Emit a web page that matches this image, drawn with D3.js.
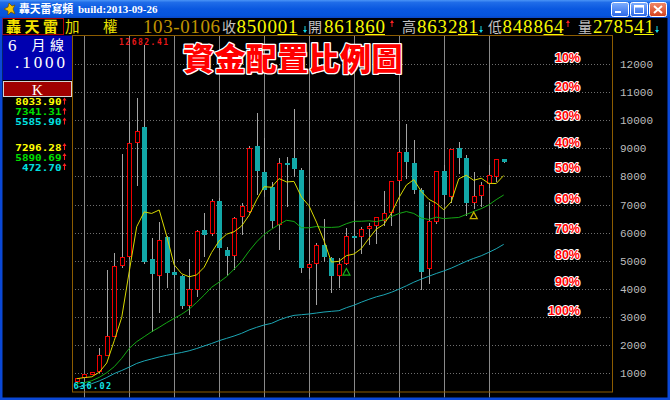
<!DOCTYPE html>
<html><head><meta charset="utf-8">
<script src="https://cdn.jsdelivr.net/npm/d3@7"></script>
<style>
html,body{margin:0;padding:0;background:#000;overflow:hidden}
svg{display:block}
</style></head><body>
<svg id="c" width="670" height="400"></svg>
<script>
// ---------- data (half-year candles, ROC year + half) ----------
const periods = ["74H2","75H1","75H2","76H1","76H2","77H1","77H2","78H1","78H2","79H1","79H2","80H1","80H2","81H1","81H2","82H1","82H2","83H1","83H2","84H1","84H2","85H1","85H2","86H1","86H2","87H1","87H2","88H1","88H2","89H1","89H2","90H1","90H2","91H1","91H2","92H1","92H2","93H1","93H2","94H1","94H2","95H1","95H2","96H1","96H2","97H1","97H2","98H1","98H2","99H1","99H2","100H1","100H2","101H1","101H2","102H1","102H2","103H1"];
const opens  = [700,850,950,1040,1620,2300,4800,5119,9180,9770,5050,4450,5830,4600,4460,3392,3961,6095,5953,7124,5384,5170,6569,6750,9082,8169,7636,6273,8489,8643,8228,4739,4886,5561,5087,4452,4872,5882,5839,6139,6241,6400,6704,7823,8856,8465,7517,4696,6391,8193,7280,8999,8643,7043,7316,7730,7991,8619];
const highs  = [840,975,1060,1890,4673,5265,8790,9950,10773,12682,5800,6365,5900,5390,4500,5050,6100,6687,7185,7220,5500,6550,7067,9082,10256,9354,7800,8643,8710,10393,8300,6104,5621,6484,5150,5087,6154,7135,6213,6356,6575,7474,7850,8900,9859,9309,7600,7100,8200,8395,8990,9220,8775,8170,7800,8400,8623,8633];
const lows   = [636,830,930,1000,1600,2290,4750,5050,7670,4900,2485,3130,4020,4400,3270,3072,3724,5123,5900,5400,4474,4673,5917,6700,7340,7280,6154,5384,6900,7990,4555,4350,3411,4969,3850,4044,4850,5400,5255,5565,5600,6232,6232,7306,7900,7384,3955,4164,6300,7032,7071,8070,6609,6857,6922,7600,7800,8489];
const closes = [835,960,1039,1650,2340,4800,5119,9180,9624,4970,4530,5740,4560,4500,3377,3985,6070,5917,7124,5443,5174,6510,6934,9030,8187,7517,6418,8467,8448,8265,4739,4883,5551,5153,4452,4872,5890,5839,6139,6241,6548,6704,7823,8883,8506,7523,4591,6432,8188,7329,8972,8652,7072,7296,7699,8062,8611,8500];
// moving averages
const maShort = [807,847,874,1037,1365,2158,2990,4618,6213,6739,6685,6809,5885,4860,4541,4432,4498,4770,5295,5708,5946,6034,6237,6618,7167,7636,7617,7924,7807,7823,7267,6960,6377,5718,4956,4982,5184,5241,5438,5796,6131,6294,6691,7240,7693,7888,7465,7187,7048,6813,7102,7915,8043,7864,7938,7756,7748,8034];
const maMid   = [643,666,737,856,1022,1235,1532,1887,2124,2302,2480,2634,2800,2954,3100,3280,3520,3780,4060,4241,4438,4702,4979,5346,5671,5938,6123,6290,6441,6400,6177,6174,6220,6193,6188,6205,6320,6404,6407,6422,6395,6453,6573,6681,6752,6684,6521,6471,6552,6500,6524,6541,6647,6757,6855,6987,7176,7341];
const maLong  = [500,560,630,730,850,990,1100,1220,1350,1440,1510,1580,1640,1690,1740,1800,1880,1970,2060,2159,2243,2326,2421,2539,2634,2717,2776,2895,2989,3060,3084,3108,3143,3179,3203,3226,3333,3420,3530,3630,3720,3790,3880,3990,4110,4240,4350,4450,4550,4640,4740,4860,4981,5087,5180,5300,5430,5586];
const signalPeriods = ["92H2","101H1"];
const yTicks = [1000,2000,3000,4000,5000,6000,7000,8000,9000,10000,11000,12000];
const xTickYears = ["75","78","81","84","87","90","93","96","99","102"];
const pctLabels = ["10%","20%","30%","40%","50%","60%","70%","80%","90%","100%"];
const pctLevels = [12230,11190,10185,9200,8325,7225,6155,5230,4255,3250];
const maNow  = ["8033.90","7341.31","5585.90"];
const maDrop = ["7296.28","5890.69","472.70"];
const quoteLabels = ["收","開","高","低","量"];
const quoteValues = ["850001","861860","863281","848864","278541"];
const quoteDirs   = ["down","up","down","up","down"];
const quoteDate = "103-0106";
const maxLabel = "12682.41", minLabel = "636.02";

// ---------- setup ----------
const svg = d3.select("#c");
const W = 670, H = 400;
const defs = svg.append("defs");
const tb = defs.append("linearGradient").attr("id","tb").attr("x1",0).attr("y1",0).attr("x2",0).attr("y2",1);
[["0%","#4a94f6"],["14%","#1f6ce8"],["50%","#0a58e0"],["86%","#0654dc"],["100%","#0a46c4"]]
  .forEach(([o,c]) => tb.append("stop").attr("offset",o).attr("stop-color",c));
const bg = defs.append("linearGradient").attr("id","btn").attr("x1",0).attr("y1",0).attr("x2",0).attr("y2",1);
[["0%","#7fb0ff"],["100%","#2a66e6"]].forEach(([o,c]) => bg.append("stop").attr("offset",o).attr("stop-color",c));
const cg = defs.append("linearGradient").attr("id","cls").attr("x1",0).attr("y1",0).attr("x2",0).attr("y2",1);
[["0%","#f08a6a"],["100%","#d2401c"]].forEach(([o,c]) => cg.append("stop").attr("offset",o).attr("stop-color",c));
defs.append("clipPath").attr("id","xlab").append("rect").attr("x",72).attr("y",392).attr("width",545).attr("height",5.5);

svg.append("rect").attr("width",W).attr("height",H).attr("fill","#000");

const L = 72, R = 612, T = 36, B = 392;
const x = d3.scaleLinear().domain([0, periods.length - 1]).range([76.8, 503.7]);
const y = d3.scaleLinear().domain([0, 12000]).range([401.4, 64]);
const px = v => Math.round(v);

// ---------- grid ----------
const grid = svg.append("g");
grid.selectAll("line.h").data(yTicks).join("line")
  .attr("x1",L).attr("x2",R).attr("y1",d=>px(y(d))+0.5).attr("y2",d=>px(y(d))+0.5)
  .attr("stroke","#6e6e6e").attr("stroke-dasharray","1,2");
const tickIdx = xTickYears.map(t => periods.indexOf(t + "H1"));
grid.selectAll("line.v").data(tickIdx).join("line")
  .attr("x1",d=>px(x(d))+0.5).attr("x2",d=>px(x(d))+0.5).attr("y1",T).attr("y2",397.5)
  .attr("stroke","#8a8a8a");

// ---------- candles ----------
const wickC = "#a4a4a4", upC = "#f00000", dnC = "#12a8a8";
const cg2 = svg.append("g");
const cand = cg2.selectAll("g").data(periods.map((p,i)=>i)).join("g");
cand.each(function(i){
  const g = d3.select(this);
  const cx = px(x(i));
  const o = opens[i], c = closes[i];
  const up = c >= o;
  const yt = px(y(Math.max(o,c))), yb = px(y(Math.min(o,c)));
  const yh = px(y(highs[i])), yl = px(y(lows[i]));
  if (yh < yt) g.append("line").attr("x1",cx+0.5).attr("x2",cx+0.5).attr("y1",yh).attr("y2",yt).attr("stroke",wickC);
  if (yl > yb) g.append("line").attr("x1",cx+0.5).attr("x2",cx+0.5).attr("y1",yb).attr("y2",yl).attr("stroke",wickC);
  if (up) {
    g.append("rect").attr("x",cx-1.5).attr("y",yt+0.5).attr("width",4).attr("height",Math.max(yb-yt-1,1))
      .attr("fill","#000").attr("stroke",upC);
  } else {
    g.append("rect").attr("x",cx-2).attr("y",yt).attr("width",5).attr("height",Math.max(yb-yt,2)).attr("fill",dnC);
  }
});

// ---------- moving averages ----------
const line = d3.line().x((d,i)=>x(i)).y(d=>y(d));
[[maLong,"#1ca6b4"],[maMid,"#14a814"],[maShort,"#d8d800"]].forEach(([arr,col])=>{
  svg.append("path").attr("d",line(arr)).attr("fill","none").attr("stroke",col).attr("stroke-width",1);
});

// signal triangles
const sigCols = ["#18b018","#c8b400"];
signalPeriods.forEach((p,k)=>{
  const i = periods.indexOf(p);
  const cx = x(i), top = y(lows[i]) + 3.5;
  svg.append("path").attr("d",`M${cx},${top} L${cx+3.5},${top+6.5} L${cx-3.5},${top+6.5} Z`)
    .attr("fill","none").attr("stroke",sigCols[k]).attr("stroke-width",1.2);
});

// ---------- chart border ----------
svg.append("rect").attr("x",L+0.5).attr("y",T-0.5).attr("width",R-L).attr("height",B-T+0.5)
  .attr("fill","none").attr("stroke","#8c5c00");

// ---------- axes ----------
const ya = svg.append("g").attr("transform",`translate(${R+6},0)`)
  .call(d3.axisRight(y).tickValues(yTicks).tickSize(0).tickPadding(2).tickFormat(d3.format("d")));
ya.select(".domain").remove();
ya.selectAll("text").attr("fill","#bdbdbd").style("font-family","'Liberation Mono', monospace").style("font-size","11px");

const xa = svg.append("g").attr("clip-path","url(#xlab)").attr("transform",`translate(0,${B})`)
  .call(d3.axisBottom(x).tickValues(tickIdx).tickSize(0).tickPadding(0).tickFormat(i=>periods[i].replace("H1","")));
xa.select(".domain").remove();
xa.selectAll("text").attr("fill","#c4c4c4").attr("text-anchor","start").attr("dx","2.5").attr("y",0.5).attr("dy","0.72em")
  .style("font-family","'DejaVu Sans Mono', monospace").style("font-size","9.5px");

// max / min labels
svg.append("text").attr("x",119).attr("y",44.5).text(maxLabel).attr("fill","#e81818")
  .style("font-family","'DejaVu Sans Mono', monospace").style("font-size","8px").style("font-weight","bold").style("letter-spacing","1.5px");
svg.append("text").attr("x",73.5).attr("y",389).text(minLabel).attr("fill","#10e8e8")
  .style("font-family","'DejaVu Sans Mono', monospace").style("font-size","8.5px").style("font-weight","bold").style("letter-spacing","1.4px");

// ---------- annotation title & percentages ----------
svg.append("text").attr("x",183).attr("y",70).text("資金配置比例圖")
  .attr("fill","#ff0000").attr("stroke","#ffffff").attr("stroke-width",2.6).attr("paint-order","stroke")
  .attr("stroke-linejoin","round")
  .style("font-family","'Noto Sans CJK TC', sans-serif").style("font-size","31px").style("font-weight","900").style("letter-spacing","0.4px");
svg.append("g").selectAll("text").data(pctLabels).join("text")
  .attr("x",580).attr("y",(d,k)=>y(pctLevels[k])).attr("dy","0.36em").attr("text-anchor","end").text(d=>d)
  .attr("fill","#ff0000").attr("stroke","#ffffff").attr("stroke-width",2).attr("paint-order","stroke").attr("stroke-linejoin","round")
  .style("font-family","'Liberation Sans', Arial, sans-serif").style("font-size","12.5px").style("font-weight","bold");

// ---------- left panel ----------
svg.append("rect").attr("x",3).attr("y",35.5).attr("width",69).attr("height",44.5).attr("fill","#0000b0");
svg.append("text").attr("x",8).attr("y",50.5).text("6").attr("fill","#fff")
  .style("font-family","'Liberation Serif', serif").style("font-size","17px");
svg.append("text").attr("x",31.5).attr("y",49.5).text("月").attr("fill","#fff")
  .style("font-family","'Noto Sans CJK TC', sans-serif").style("font-size","14px");
svg.append("text").attr("x",50).attr("y",49.5).text("線").attr("fill","#fff")
  .style("font-family","'Noto Sans CJK TC', sans-serif").style("font-size","14px");
svg.append("text").attr("x",15).attr("y",67.5).text(".1000").attr("fill","#fff").attr("textLength",50).attr("lengthAdjust","spacing")
  .style("font-family","'Liberation Serif', serif").style("font-size","17px");
svg.append("rect").attr("x",3.5).attr("y",81.5).attr("width",68).attr("height",15).attr("fill","#a00000").attr("stroke","#d4d4d4");
svg.append("text").attr("x",37.5).attr("y",94.5).attr("text-anchor","middle").text("K").attr("fill","#fff")
  .style("font-family","'Liberation Serif', serif").style("font-size","15px");

const maCols = ["#ffff00","#00e000","#00e0e0"];
const upArrow = (g,cx,top,col)=>{
  g.append("path").attr("d",`M${cx},${top} L${cx+2},${top+3} L${cx+0.5},${top+3} L${cx+0.5},${top+7} L${cx-0.5},${top+7} L${cx-0.5},${top+3} L${cx-2},${top+3} Z`).attr("fill",col);
};
const dnArrow = (g,cx,bot,col)=>{
  g.append("path").attr("d",`M${cx},${bot} L${cx+2},${bot-3} L${cx+0.5},${bot-3} L${cx+0.5},${bot-7} L${cx-0.5},${bot-7} L${cx-0.5},${bot-3} L${cx-2},${bot-3} Z`).attr("fill",col);
};
const lp = svg.append("g");
[[maNow,105],[maDrop,150.5]].forEach(([vals,y0])=>{
  vals.forEach((v,k)=>{
    const yy = y0 + k*10;
    lp.append("text").attr("x",61.5).attr("y",yy).attr("text-anchor","end").text(v).attr("fill",maCols[k])
      .attr("textLength",v.length*6.6).attr("lengthAdjust","spacingAndGlyphs")
      .style("font-family","'DejaVu Sans Mono', monospace").style("font-size","8.6px").style("font-weight","bold");
    upArrow(lp,64.5,yy-7.5,"#ff2020");
  });
});

// ---------- header row ----------
const hd = svg.append("g");
hd.append("rect").attr("x",2.5).attr("y",18.5).attr("width",61).attr("height",16).attr("fill","none").attr("stroke","#b00000");
hd.append("text").attr("x",6).attr("y",32).text("轟天雷").attr("fill","#f4e400").style("letter-spacing","3.5px")
  .style("font-family","'Noto Sans CJK TC', sans-serif").style("font-size","15px").style("font-weight","bold");
hd.append("text").attr("x",65).attr("y",32).text("加").attr("fill","#e8e000")
  .style("font-family","'Noto Sans CJK TC', sans-serif").style("font-size","14.5px");
hd.append("text").attr("x",103).attr("y",32).text("權").attr("fill","#e8e000")
  .style("font-family","'Noto Sans CJK TC', sans-serif").style("font-size","14.5px");
hd.append("text").attr("x",143).attr("y",33).text(quoteDate).attr("fill","#c09400").attr("textLength",77).attr("lengthAdjust","spacing")
  .style("font-family","'Liberation Serif', serif").style("font-size","19px");
const qLabX = [222,308,402,488,578], qValX = [236.5,324,417,502.5,593], qArrX = [305,392,481,568,657];
quoteLabels.forEach((lab,k)=>{
  hd.append("text").attr("x",qLabX[k]).attr("y",31.5).text(lab).attr("fill","#c4c4c4")
    .style("font-family","'Noto Sans CJK TC', sans-serif").style("font-size","14px");
  hd.append("text").attr("x",qValX[k]).attr("y",33).text(quoteValues[k]).attr("fill","#f8f800")
    .attr("textLength",61).attr("lengthAdjust","spacing")
    .style("font-family","'Liberation Serif', serif").style("font-size","19px");
  hd.append("line").attr("x1",qValX[k]+41).attr("x2",qValX[k]+61).attr("y1",34.5).attr("y2",34.5).attr("stroke","#f8f800");
  if (quoteDirs[k]==="up") upArrow(hd,qArrX[k],20,"#ff2020"); else dnArrow(hd,qArrX[k],33,"#10d8e8");
});

// ---------- window chrome ----------
svg.append("rect").attr("width",W).attr("height",18).attr("fill","url(#tb)");
// icon
svg.append("path").attr("d","M9,3 L12,6 L15,5 L13,9 L15,14 L11,12 L8,15 L8,11 L4,9 L8,7 Z")
  .attr("fill","#f2c400").attr("stroke","#6a4a00").attr("stroke-width",0.7);
svg.append("text").attr("x",19).attr("y",13).text("轟天雷寫頻").attr("fill","#fff")
  .style("font-family","'Noto Sans CJK TC', sans-serif").style("font-size","10.8px").style("font-weight","bold");
svg.append("text").attr("x",78).attr("y",13).text("build:2013-09-26").attr("fill","#fff")
  .style("font-family","'Liberation Serif', serif").style("font-size","11px").style("font-weight","bold");
// buttons
svg.append("rect").attr("x",611.5).attr("y",2.5).attr("width",17).attr("height",14).attr("rx",2).attr("fill","url(#btn)").attr("stroke","#fff");
svg.append("rect").attr("x",615).attr("y",11).attr("width",6).attr("height",2).attr("fill","#fff");
svg.append("rect").attr("x",630.5).attr("y",2.5).attr("width",17).attr("height",14).attr("rx",2).attr("fill","url(#btn)").attr("stroke","#fff");
svg.append("rect").attr("x",634.5).attr("y",5.5).attr("width",9).attr("height",8).attr("fill","none").attr("stroke","#fff");
svg.append("rect").attr("x",634.5).attr("y",5.5).attr("width",9).attr("height",2).attr("fill","#fff");
svg.append("rect").attr("x",649.5).attr("y",2.5).attr("width",17).attr("height",14).attr("rx",2).attr("fill","url(#cls)").attr("stroke","#fff");
svg.append("path").attr("d","M654,6 L662,13 M662,6 L654,13").attr("stroke","#fff").attr("stroke-width",2);
// frame
svg.append("rect").attr("x",0).attr("y",18).attr("width",2.5).attr("height",H-18).attr("fill","#0a48d6");
svg.append("rect").attr("x",W-2.5).attr("y",18).attr("width",2.5).attr("height",H-18).attr("fill","#0a48d6");
svg.append("rect").attr("x",0).attr("y",397.5).attr("width",W).attr("height",2.5).attr("fill","#0a48d6");
</script>
</body></html>
